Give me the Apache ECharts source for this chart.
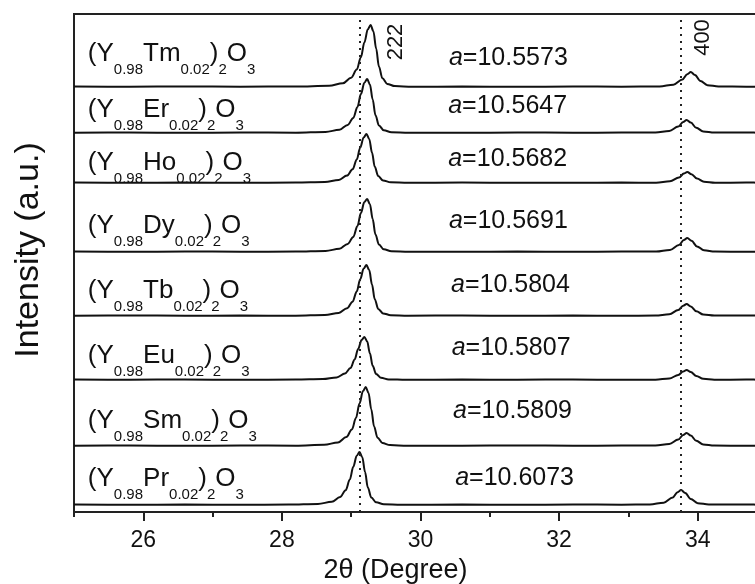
<!DOCTYPE html>
<html><head><meta charset="utf-8">
<script src="https://cdn.jsdelivr.net/npm/echarts@6/dist/echarts.min.js"></script>
<style>html,body{margin:0;padding:0;background:#fff}#c{width:755px;height:584px}</style>
</head><body><div id="c"></div>
<script>
// ---- data ----
const dopants = ['Tm','Er','Ho','Dy','Tb','Eu','Sm','Pr'];
const latticeA = ['10.5573','10.5647','10.5682','10.5691','10.5804','10.5807','10.5809','10.6073'];
const offsets = [425,379,329,260,196,132,66,7];           // vertical stacking offsets (a.u.)
const refLines = [29.12, 33.76];                          // dotted reference positions (2θ)
const peakLabels = ['222','400'];
const xTicks = [26,28,30,32,34];
const xMinorTicks = [25,27,29,31,33];

const tm = [[25,0.4],[25.8,0.2],[26.6,0.6],[27.4,0.3],[28.2,0.5],[28.68,1.2],[28.88,3.7],[29.00,9.3],[29.08,17.4],[29.14,29.8],[29.19,44.6],[29.24,57.7],[29.28,62],[29.32,55.8],[29.36,38.4],[29.40,20.5],[29.45,8.7],[29.52,3.1],[29.63,0.9],[29.88,0.3],[30.6,0.4],[31.4,0.2],[32.2,0.5],[32.9,0.3],[33.45,0.5],[33.65,2.3],[33.78,7.5],[33.85,12.8],[33.90,15],[33.96,12],[34.04,6],[34.14,1.8],[34.30,0.5],[34.7,0.3],[35,0.4]];
const er = [[25,0.3],[25.8,0.5],[26.6,0.2],[27.4,0.5],[28.2,0.3],[28.63,1.1],[28.83,3.2],[28.95,8.1],[29.03,15.1],[29.09,25.9],[29.14,38.9],[29.19,50.2],[29.23,54],[29.27,48.6],[29.31,33.5],[29.35,17.8],[29.40,7.6],[29.47,2.7],[29.58,0.8],[29.83,0.3],[30.6,0.2],[31.4,0.5],[32.2,0.3],[32.9,0.4],[33.39,0.4],[33.59,2.0],[33.72,6.5],[33.79,11.1],[33.84,13],[33.90,10.4],[33.98,5.2],[34.08,1.6],[34.24,0.4],[34.7,0.4],[35,0.3]];
const ho = [[25,0.5],[25.8,0.3],[26.6,0.4],[27.4,0.2],[28.2,0.5],[28.62,1.0],[28.82,2.9],[28.94,7.4],[29.02,13.7],[29.08,23.5],[29.13,35.3],[29.18,45.6],[29.22,49],[29.26,44.1],[29.30,30.4],[29.34,16.2],[29.39,6.9],[29.46,2.5],[29.57,0.7],[29.82,0.3],[30.6,0.4],[31.4,0.3],[32.2,0.2],[32.9,0.4],[33.40,0.3],[33.60,1.7],[33.73,5.5],[33.80,9.4],[33.85,11],[33.91,8.8],[33.99,4.4],[34.09,1.3],[34.25,0.3],[34.7,0.4],[35,0.3]];
const dy = [[25,0.4],[25.8,0.2],[26.6,0.5],[27.4,0.3],[28.2,0.4],[28.63,1.1],[28.83,3.2],[28.95,8.1],[29.03,15.1],[29.09,25.9],[29.14,38.9],[29.19,50],[29.23,53],[29.27,47.7],[29.31,32.9],[29.35,17.5],[29.40,7.4],[29.47,2.7],[29.58,0.8],[29.83,0.3],[30.6,0.3],[31.4,0.4],[32.2,0.2],[32.9,0.5],[33.40,0.4],[33.60,2.1],[33.73,7],[33.80,11.9],[33.85,14],[33.91,11.2],[33.99,5.6],[34.09,1.7],[34.25,0.4],[34.7,0.3],[35,0.4]];
const tb = [[25,0.3],[25.8,0.5],[26.6,0.3],[27.4,0.4],[28.2,0.3],[28.62,1.0],[28.82,3.1],[28.94,7.7],[29.02,14.3],[29.08,24.5],[29.13,36.7],[29.18,47.4],[29.22,51],[29.26,45.9],[29.30,31.6],[29.34,16.8],[29.39,7.1],[29.46,2.6],[29.57,0.8],[29.82,0.3],[30.6,0.5],[31.4,0.2],[32.2,0.4],[32.9,0.3],[33.39,0.4],[33.59,1.8],[33.72,6],[33.79,10.2],[33.84,12],[33.90,9.6],[33.98,4.8],[34.08,1.4],[34.24,0.4],[34.7,0.5],[35,0.3]];
const eu = [[25,0.4],[25.8,0.3],[26.6,0.5],[27.4,0.2],[28.2,0.4],[28.59,0.9],[28.79,2.6],[28.91,6.5],[28.99,12],[29.05,20.6],[29.10,31],[29.15,40],[29.19,43],[29.23,38.7],[29.27,26.7],[29.31,14.2],[29.36,6],[29.43,2.2],[29.54,0.6],[29.79,0.2],[30.6,0.4],[31.4,0.3],[32.2,0.5],[32.9,0.2],[33.39,0.3],[33.59,1.5],[33.72,5],[33.79,8.5],[33.84,10],[33.90,8],[33.98,4],[34.08,1.2],[34.24,0.3],[34.7,0.4],[35,0.3]];
const sm = [[25,0.3],[25.8,0.4],[26.6,0.2],[27.4,0.5],[28.2,0.3],[28.61,1.2],[28.81,3.5],[28.93,8.9],[29.01,16.5],[29.07,28.3],[29.12,42.5],[29.17,54.9],[29.21,59],[29.25,53.1],[29.29,36.6],[29.33,19.5],[29.38,8.3],[29.45,3],[29.56,0.9],[29.81,0.3],[30.6,0.3],[31.4,0.5],[32.2,0.3],[32.9,0.4],[33.39,0.4],[33.59,2],[33.72,6.5],[33.79,11.1],[33.84,13],[33.90,10.4],[33.98,5.2],[34.08,1.6],[34.24,0.4],[34.7,0.3],[35,0.4]];
const pr = [[25,0.5],[25.8,0.3],[26.6,0.4],[27.4,0.2],[28.1,0.4],[28.52,1.1],[28.72,3.2],[28.84,8],[28.92,14.8],[28.98,25.4],[29.03,38.2],[29.08,49.3],[29.12,53],[29.16,47.7],[29.20,32.9],[29.24,17.5],[29.29,7.4],[29.36,2.7],[29.47,0.8],[29.72,0.3],[30.6,0.4],[31.4,0.2],[32.2,0.5],[32.9,0.3],[33.31,0.5],[33.51,2.3],[33.64,7.5],[33.71,12.8],[33.76,15],[33.82,12],[33.90,6],[34.00,1.8],[34.16,0.5],[34.7,0.4],[35,0.3]];

// ---- layout (annotation placement, in axis units) ----
const nameX = 25.20;
const nameLift = [24,14,11,17,16,15,16,17];
const aX = [30.41,30.40,30.40,30.41,30.44,30.45,30.47,30.50];
const aLift = [20,18,15,22,22,23,26,18];
const peakLabelPos = [[29.64,470],[34.08,474.5]];

const FONT = '"Liberation Sans", Arial, sans-serif';
const INK = '#111';
const traces = [tm, er, ho, dy, tb, eu, sm, pr];

const chart = echarts.init(document.getElementById('c'), null, {renderer: 'canvas'});

const series = traces.map((pts, i) => {
  const s = {
    type: 'line',
    data: pts.map(p => [p[0], p[1] + offsets[i]]),
    symbol: 'none', showSymbol: false,
    smooth: 0.35, smoothMonotone: 'x',
    lineStyle: {color: INK, width: 2},
    silent: true, animation: false, z: 3
  };
  if (i === 0) {
    s.markLine = {
      silent: true, animation: false, symbol: ['none','none'],
      label: {show: false},
      lineStyle: {color: '#222', type: [2,5], width: 2},
      data: refLines.map(v => ({xAxis: v}))
    };
  }
  return s;
});

chart.setOption({
  backgroundColor: '#fff',
  animation: false,
  grid: {left: 74, top: 14, right: -12, bottom: 72, show: true, borderColor: '#222', borderWidth: 2,
         backgroundColor: 'transparent', containLabel: false, outerBoundsMode: 'none'},
  xAxis: [{
    type: 'value', min: 25, max: 35, position: 'bottom',
    name: '2θ (Degree)', nameLocation: 'middle', nameGap: 45,
    nameTextStyle: {fontFamily: FONT, fontSize: 27, color: INK, padding: [0, 50, 0, 0]},
    axisLine: {show: true, onZero: false, lineStyle: {color: '#222', width: 2}},
    axisTick: {show: true, inside: false, length: 9, lineStyle: {color: '#222', width: 2}, customValues: xTicks},
    axisLabel: {show: true, margin: 17, fontFamily: FONT, fontSize: 23, color: INK, customValues: xTicks},
    splitLine: {show: false}, minorTick: {show: false}
  }, {
    type: 'value', min: 25, max: 35, position: 'bottom',
    axisLine: {show: false},
    axisTick: {show: true, inside: false, length: 5, lineStyle: {color: '#222', width: 2}, customValues: xMinorTicks},
    axisLabel: {show: false},
    splitLine: {show: false}
  }],
  yAxis: {
    type: 'value', min: 0, max: 498,
    axisLine: {show: false}, axisTick: {show: false}, axisLabel: {show: false}, splitLine: {show: false}
  },
  series: series
});

function px(x, y) { return chart.convertToPixel({seriesIndex: 0}, [x, y]); }

const graphics = [];
graphics.push({
  type: 'text', x: 29, y: 250, rotation: Math.PI / 2, silent: true,
  style: {text: 'Intensity (a.u.)', fontSize: 34, fontFamily: FONT, fill: INK,
          align: 'center', verticalAlign: 'middle', textAlign: 'center', textVerticalAlign: 'middle'}
});
dopants.forEach((d, i) => {
  const capCenter = px(nameX, offsets[i] + nameLift[i] + 9);
  graphics.push({
    type: 'text', x: capCenter[0], y: capCenter[1] - 13, silent: true,
    style: {
      text: '{m|(Y}{s|0.98}{m|' + d + '}{s|0.02}{m|)}{s|2}{m|O}{s|3}',
      fill: INK, fontSize: 26, fontFamily: FONT,
      align: 'left', verticalAlign: 'top', textAlign: 'left', textVerticalAlign: 'top',
      rich: {
        m: {fontSize: 26, fontFamily: FONT, fill: INK, verticalAlign: 'top'},
        s: {fontSize: 15, fontFamily: FONT, fill: INK, verticalAlign: 'top', padding: [21, 0, 0, 0]}
      }
    }
  });
  const aBase = px(aX[i], offsets[i] + aLift[i]);
  graphics.push({
    type: 'text', x: aBase[0], y: aBase[1] - 8.5, silent: true,
    style: {
      text: '{i|a}{n|=' + latticeA[i] + '}',
      fill: INK, fontSize: 25, fontFamily: FONT,
      align: 'left', verticalAlign: 'middle', textAlign: 'left', textVerticalAlign: 'middle',
      rich: {
        i: {fontSize: 25, fontFamily: FONT, fontStyle: 'italic', fill: INK},
        n: {fontSize: 25, fontFamily: FONT, fill: INK}
      }
    }
  });
});
peakLabels.forEach((t, k) => {
  const p = px(peakLabelPos[k][0], peakLabelPos[k][1]);
  graphics.push({
    type: 'text', x: p[0], y: p[1], rotation: Math.PI / 2, silent: true,
    style: {text: t, fontSize: 22, fontFamily: FONT, fill: INK,
            align: 'center', verticalAlign: 'middle', textAlign: 'center', textVerticalAlign: 'middle'}
  });
});

chart.setOption({graphic: graphics});
</script>
</body></html>
